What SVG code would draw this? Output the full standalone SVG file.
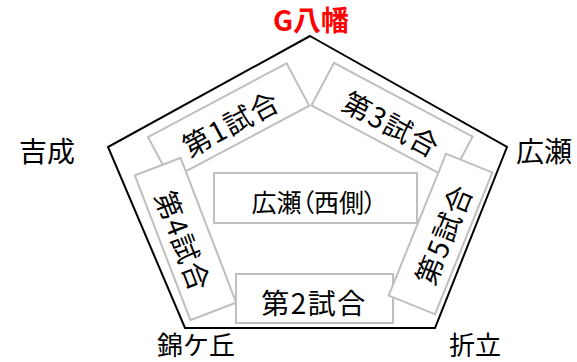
<svg xmlns="http://www.w3.org/2000/svg" width="577" height="362" viewBox="0 0 577 362">
<style>
text{font-family:"Noto Sans CJK JP","Noto Sans",sans-serif;fill:#000;text-anchor:middle;dominant-baseline:central}
.lbl{font-size:28px}
.low{font-size:26px}
.box rect{fill:#fff;stroke:#bfbfbf;stroke-width:2}
.box text{font-size:28px;letter-spacing:1.5px}
.mid text{font-size:25px;letter-spacing:0;font-feature-settings:"palt"}
</style>
<rect width="577" height="362" fill="#fff"/>
<g id="connectors">
<polygon points="310,36 507,147 435,328 185,328 108,147" fill="none" stroke="#000" stroke-width="2"/>
</g>
<g id="g-yawata"><text class="lbl" x="311" y="18.5" style="fill:#ff0000;font-weight:bold">G八幡</text></g>
<g id="yoshinari"><text class="lbl" x="47" y="150">吉成</text></g>
<g id="hirose"><text class="lbl" x="544" y="150">広瀬</text></g>
<g id="nishikigaoka"><text class="low" x="196" y="343">錦ケ丘</text></g>
<g id="oritate"><text class="low" x="475" y="343">折立</text></g>
<g id="hirose-west" class="box mid"><rect x="214" y="173" width="203" height="50"/><text x="314" y="201">広瀬（西側）</text></g>
<g id="match1" class="box" transform="translate(228.6,121.4) rotate(-28)"><rect x="-78.5" y="-24" width="157" height="48"/><text x="1" y="2">第1試合</text></g>
<g id="match3" class="box" transform="translate(392,121) rotate(28)"><rect x="-78.5" y="-24" width="157" height="48"/><text x="1" y="2">第3試合</text></g>
<g id="match2" class="box"><rect x="236" y="274" width="157" height="49"/><text x="314" y="302">第2試合</text></g>
<g id="match4" class="box" transform="translate(185.5,239) rotate(69)"><rect x="-77.5" y="-24.5" width="155" height="49"/><text x="1" y="2">第4試合</text></g>
<g id="match5" class="box" transform="translate(440.5,234) rotate(-68)"><rect x="-76.5" y="-25" width="153" height="50"/><text x="1" y="2">第5試合</text></g>
</svg>
